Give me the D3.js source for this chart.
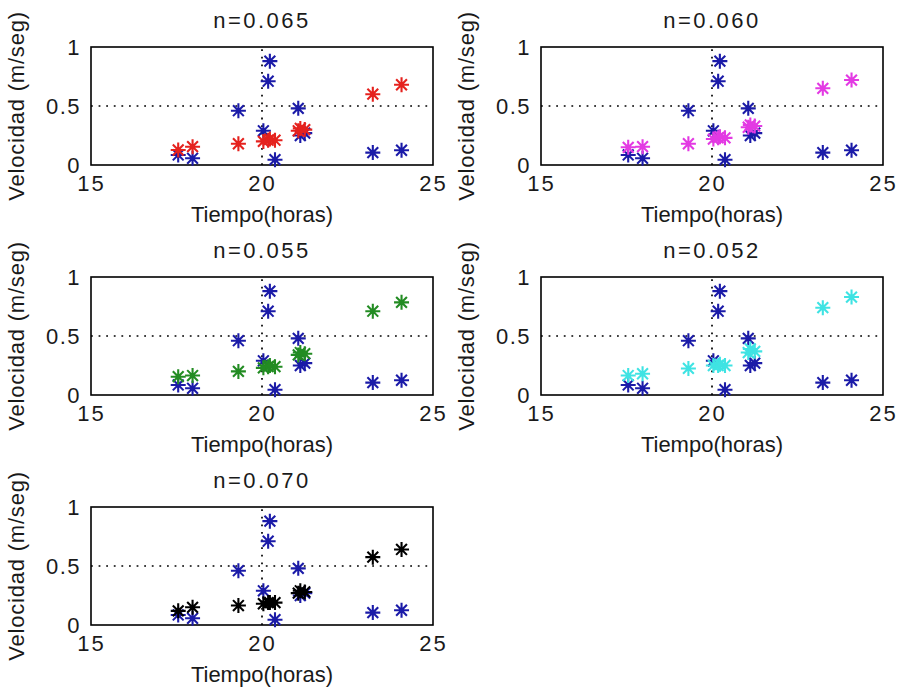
<!DOCTYPE html>
<html>
<head>
<meta charset="utf-8">
<script src="https://cdn.jsdelivr.net/npm/d3@7"></script>
<style>
  html, body { margin: 0; padding: 0; background: #fff; }
  svg { display: block; }
  text { font-family: "Liberation Sans", Arial, Helvetica, sans-serif; font-weight: normal; fill: #1a1a1a; }
</style>
</head>
<body>
<script>
// Observation times (hours) shared by every panel
const horas = [17.55, 17.97, 19.31, 20.04, 20.18, 20.23, 20.38, 21.06, 21.12, 21.25, 23.24, 24.08];
// Measured velocity (m/seg)
const velMedida = [0.085, 0.057, 0.46, 0.29, 0.71, 0.88, 0.045, 0.48, 0.25, 0.27, 0.105, 0.125];
// Simulated velocity for each Manning coefficient
const velN065 = [0.127, 0.155, 0.18, 0.20, 0.21, 0.22, 0.21, 0.29, 0.31, 0.30, 0.60, 0.68];
const velN060 = [0.150, 0.155, 0.18, 0.22, 0.23, 0.24, 0.23, 0.32, 0.34, 0.33, 0.65, 0.72];
const velN055 = [0.155, 0.165, 0.20, 0.23, 0.24, 0.25, 0.24, 0.34, 0.36, 0.35, 0.71, 0.785];
const velN052 = [0.165, 0.180, 0.225, 0.25, 0.25, 0.26, 0.25, 0.36, 0.39, 0.37, 0.74, 0.83];
const velN070 = [0.120, 0.150, 0.165, 0.18, 0.19, 0.19, 0.19, 0.27, 0.29, 0.28, 0.575, 0.64];

const titulos = ["n=0.065", "n=0.060", "n=0.055", "n=0.052", "n=0.070"];
const series = [velN065, velN060, velN055, velN052, velN070];

const xTicks = [15, 20, 25];
const yTicks = [0, 0.5, 1];
const yTickLabels = ["0", "0.5", "1"];
const xDominio = [15, 25];
const yDominio = [0, 1];
const xRef = 20;   // vertical reference line
const yRef = 0.5;  // horizontal reference line

// styling
const colores = ["#e5221e", "#e33ae3", "#238c23", "#3fe3e3", "#000000"];
const colorMedida = "#1b1ba8";

const W = 898, H = 692;
const colX = [91, 541];
const rowY = [47, 277, 507];
const pw = 342, ph = 118;
const fs = 22;

const svg = d3.select("body").append("svg")
  .attr("width", W).attr("height", H);

// eight-armed asterisk marker
const asterisco = {
  draw(ctx, size) {
    const r = Math.sqrt(size) / 2;
    const d = r * 0.72;
    ctx.moveTo(-r, 0); ctx.lineTo(r, 0);
    ctx.moveTo(0, -r); ctx.lineTo(0, r);
    ctx.moveTo(-d, -d); ctx.lineTo(d, d);
    ctx.moveTo(-d, d); ctx.lineTo(d, -d);
  }
};
const marcador = d3.symbol().type(asterisco).size(225);

titulos.forEach((titulo, i) => {
  const x0 = colX[i % 2];
  const y0 = rowY[Math.floor(i / 2)];
  const x = d3.scaleLinear().domain(xDominio).range([x0, x0 + pw]);
  const y = d3.scaleLinear().domain(yDominio).range([y0 + ph, y0]);

  const g = svg.append("g");

  // axes frame
  g.append("rect")
    .attr("x", x0).attr("y", y0).attr("width", pw).attr("height", ph)
    .attr("fill", "#fff").attr("stroke", "#000").attr("stroke-width", 1.6);

  // dotted reference lines
  g.append("line")
    .attr("x1", x(xRef)).attr("x2", x(xRef))
    .attr("y1", y(yDominio[0])).attr("y2", y(yDominio[1]))
    .attr("stroke", "#000").attr("stroke-width", 1.7)
    .attr("stroke-dasharray", "1.8,5.8");
  g.append("line")
    .attr("x1", x(xDominio[0])).attr("x2", x(xDominio[1]))
    .attr("y1", y(yRef)).attr("y2", y(yRef))
    .attr("stroke", "#000").attr("stroke-width", 1.7)
    .attr("stroke-dasharray", "1.8,5.8");

  // x axis
  const ax = g.append("g")
    .attr("transform", `translate(0,${y0 + ph})`)
    .call(d3.axisBottom(x).tickValues(xTicks).tickSize(0).tickPadding(10));
  ax.select(".domain").remove();
  ax.selectAll("text").attr("font-size", fs).attr("letter-spacing", 2)
    .attr("font-family", "Liberation Sans, Arial, sans-serif");

  // y axis
  const ay = g.append("g")
    .attr("transform", `translate(${x0},0)`)
    .call(d3.axisLeft(y).tickValues(yTicks).tickSize(0).tickPadding(10)
      .tickFormat((d, k) => yTickLabels[k]));
  ay.select(".domain").remove();
  ay.selectAll("text").attr("font-size", fs).attr("letter-spacing", 1.5)
    .attr("dy", "0.33em")
    .attr("font-family", "Liberation Sans, Arial, sans-serif");

  // title
  g.append("text")
    .attr("x", x0 + pw / 2).attr("y", y0 - 19)
    .attr("text-anchor", "middle").attr("font-size", fs)
    .attr("letter-spacing", 2.5)
    .text(titulo);

  // axis labels
  g.append("text")
    .attr("x", x0 + pw / 2).attr("y", y0 + ph + 57)
    .attr("text-anchor", "middle").attr("font-size", fs)
    .text("Tiempo(horas)");
  g.append("text")
    .attr("transform", `translate(${x0 - 67},${y0 + ph / 2}) rotate(-90)`)
    .attr("text-anchor", "middle").attr("font-size", fs)
    .attr("letter-spacing", 0.8)
    .text("Velocidad (m/seg)");

  const obs = horas.map((h, k) => [h, velMedida[k]]);
  const sim = horas.map((h, k) => [h, series[i][k]]);

  const dibujar = (datos, color) => {
    const pg = g.append("g");
    pg.selectAll("path").data(datos).join("path")
      .attr("transform", d => `translate(${x(d[0])},${y(d[1])})`)
      .attr("d", marcador)
      .attr("fill", "none").attr("stroke", color)
      .attr("stroke-width", 2.1);
    pg.selectAll("circle").data(datos).join("circle")
      .attr("cx", d => x(d[0])).attr("cy", d => y(d[1]))
      .attr("r", 2.5).attr("fill", color);
  };
  // measured points first, simulated on top
  dibujar(obs, colorMedida);
  dibujar(sim, colores[i]);
});
</script>
</body>
</html>
